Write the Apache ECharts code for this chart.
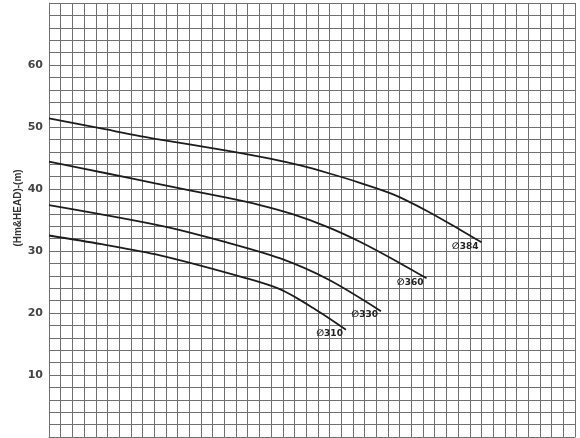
<!DOCTYPE html>
<html>
<head>
<meta charset="utf-8">
<script src="https://cdn.jsdelivr.net/npm/echarts@6/dist/echarts.min.js"></script>
<style>
html,body{margin:0;padding:0;background:#fff;}
#chart{width:580px;height:438px;}
</style>
</head>
<body>
<div id="chart"></div>
<script>
// Values (x in grid cells, y in metres of head)
var yAxisName = '(Hm&HEAD)-(m)';
var curveNames = ['384', '360', '330', '310'];
var curve384 = [[0,51.4],[4.9,49.6],[9.1,48.1],[15.2,46.2],[18.9,44.9],[21.5,43.8],[24,42.5],[26.6,41.0],[29.5,39.1],[32.3,36.5],[35.2,33.4],[37.0,31.4]];
var curve360 = [[0,44.4],[5,42.5],[9.1,40.9],[15.2,38.6],[18.05,37.4],[20.9,35.9],[23.8,33.9],[26.6,31.5],[29.5,28.6],[32.3,25.6]];
var curve330 = [[0,37.4],[9.5,34.1],[15.2,31.4],[19.8,28.8],[23.9,25.4],[28.4,20.3]];
var curve310 = [[0,32.5],[4.5,31.1],[9.5,29.3],[16.9,25.6],[19.8,23.8],[22.6,20.8],[25.4,17.3]];
var yTickLabels = [10, 20, 30, 40, 50, 60];

var curves = [curve384, curve360, curve330, curve310];

function buildSeries(points, name) {
  var data = points.map(function (p, i) {
    if (i === points.length - 1) {
      return {
        value: p,
        label: {
          show: true,
          position: 'left',
          distance: 3,
          offset: [0, 4],
          formatter: '\u2205' + name,
          fontFamily: 'DejaVu Sans',
          fontWeight: 'bold',
          fontSize: 9,
          color: '#222'
        }
      };
    }
    return { value: p };
  });
  return {
    type: 'line',
    name: name,
    data: data,
    smooth: 0.3,
    symbol: 'circle',
    symbolSize: 0,
    showSymbol: true,
    showAllSymbol: true,
    label: { show: false },
    lineStyle: { color: '#1c1c1c', width: 1.8 },
    z: 5
  };
}

var chart = echarts.init(document.getElementById('chart'), null, { renderer: 'canvas' });
chart.setOption({
  animation: false,
  backgroundColor: '#ffffff',
  grid: { left: 49, right: 5, top: 3, bottom: 1, containLabel: false },
  xAxis: {
    type: 'value', min: 0, max: 45, interval: 1,
    axisLine: { show: true, lineStyle: { color: '#707070', width: 1 } },
    axisTick: { show: false },
    axisLabel: { show: false },
    splitLine: { show: true, lineStyle: { color: '#707070', width: 1 } }
  },
  yAxis: {
    type: 'value', min: 0, max: 70, interval: 2,
    axisLine: { show: true, lineStyle: { color: '#707070', width: 1 } },
    axisTick: { show: false },
    axisLabel: {
      show: true, margin: 6,
      fontFamily: 'DejaVu Sans', fontWeight: 'bold', fontSize: 11, color: '#444',
      formatter: function (v) { return yTickLabels.indexOf(v) >= 0 ? String(v) : ''; }
    },
    splitLine: { show: true, lineStyle: { color: '#707070', width: 1 } }
  },
  graphic: [{
    type: 'text',
    x: 18, y: 208,
    rotation: Math.PI / 2,
    style: {
      text: yAxisName,
      font: 'bold 10px "Liberation Sans", Arial, sans-serif',
      fill: '#333',
      align: 'center',
      verticalAlign: 'middle'
    }
  }],
  series: curves.map(function (c, i) { return buildSeries(c, curveNames[i]); })
});
</script>
</body>
</html>
